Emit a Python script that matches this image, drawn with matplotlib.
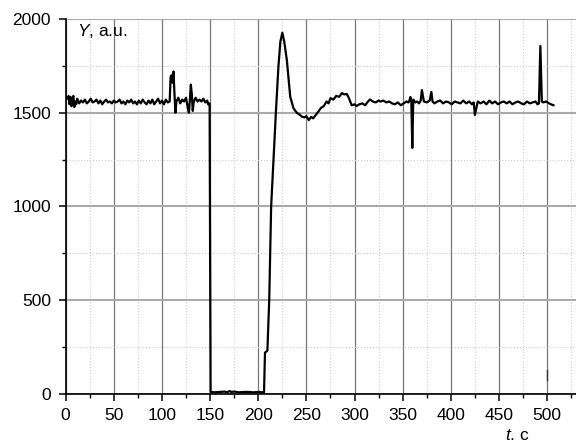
import matplotlib
matplotlib.use("Agg")
import matplotlib.pyplot as plt
from matplotlib.ticker import MultipleLocator

plt.rcParams["font.family"] = ["Liberation Sans", "DejaVu Sans"]
plt.rcParams["mathtext.fontset"] = "custom"
plt.rcParams["mathtext.it"] = "Liberation Sans:italic"
plt.rcParams["mathtext.rm"] = "Liberation Sans"

# signal
t = [0, 2, 3, 4, 5, 6, 7, 8, 9, 10, 11, 12, 14, 16, 18, 20, 22, 24, 26, 28,
     30, 32, 34, 36, 38, 40, 42, 44, 46, 48, 50, 52, 54, 56, 58, 60, 62, 64,
     66, 68, 70, 72, 74, 76, 78, 80, 82, 84, 86, 88, 90, 92, 94, 96, 98, 100,
     102, 104, 106, 108,
     109, 110, 111, 112, 113, 114, 115, 117, 119, 121, 123, 125, 127, 128,
     129, 130, 131, 132, 133, 135, 137, 139, 141, 143, 145, 147, 148, 149.5,
     150.5, 155, 160, 165, 168, 170, 172, 175, 180, 185, 190, 195, 200, 206,
     207, 209.5, 211.4, 213.4, 218.3, 221, 223, 225, 227, 229.7, 233.2, 236.6,
     240, 243.5, 245, 248, 250, 252.5, 255, 257, 260, 263, 265, 268, 271, 273,
     275, 278, 281, 284, 287, 289, 292, 294, 297, 300, 302, 305, 308, 311,
     314, 316, 319, 322, 325, 327, 330, 333, 336, 339, 342, 345, 348, 351,
     354, 356, 357, 358, 359, 360, 361, 363, 365, 367, 368.7, 370, 372, 375,
     378, 379.8, 381, 383, 386, 389, 392, 395, 398, 401, 404, 407, 410, 413,
     416, 419, 422, 423.8, 425, 428, 431, 434, 437, 440, 443, 446, 449, 452,
     455, 458, 461, 464, 467, 470, 473, 476, 479, 482, 485, 488, 490, 491.5,
     493, 494.5, 496, 499, 502, 504, 506.6]
y = [1580, 1575, 1590, 1545, 1585, 1535, 1570, 1590, 1530, 1560, 1545, 1575,
     1550, 1565, 1555, 1570, 1550, 1560, 1575, 1555, 1560, 1570, 1550, 1565,
     1545, 1560, 1570, 1555, 1560, 1550, 1565, 1555, 1560, 1570, 1550, 1560,
     1545, 1565, 1555, 1570, 1550, 1560, 1545, 1565, 1550, 1570, 1555, 1545,
     1565, 1550, 1570, 1545, 1560, 1575, 1550, 1565, 1545, 1570, 1555, 1560,
     1690, 1700, 1660, 1720, 1600, 1500, 1560, 1580, 1550, 1570, 1560, 1580,
     1520, 1500, 1570, 1650, 1600, 1510, 1560, 1580, 1560, 1570, 1560, 1575,
     1555, 1565, 1545, 1550,
     10, 8, 10, 12, 8, 15, 10, 12, 8, 10, 10, 8, 10, 8,
     220, 230, 500, 1000, 1500, 1750, 1880, 1927, 1880, 1781, 1586, 1524,
     1500, 1488, 1480, 1475, 1482, 1461, 1478, 1470, 1490, 1510, 1525, 1535,
     1560, 1550, 1578, 1570, 1590, 1585, 1605, 1598, 1600, 1580, 1540, 1545,
     1536, 1545, 1550, 1540, 1560, 1571, 1560, 1555, 1565, 1560, 1565, 1555,
     1560, 1550, 1545, 1555, 1540, 1550, 1560, 1555, 1565, 1584, 1560, 1312,
     1570, 1555, 1560, 1550, 1565, 1621, 1560, 1555, 1565, 1611, 1560, 1550,
     1560, 1565, 1550, 1560, 1555, 1545, 1560, 1555, 1550, 1565, 1550, 1560,
     1545, 1555, 1488, 1560, 1550, 1560, 1545, 1565, 1550, 1560, 1545, 1555,
     1560, 1550, 1560, 1545, 1555, 1560, 1550, 1545, 1560, 1550, 1555, 1560,
     1545, 1550, 1856, 1560, 1555, 1560, 1550, 1545, 1540]

# small stray mark near t = 500
t_mark = [500, 500]
y_mark = [74, 128]

fig = plt.figure(figsize=(5.76, 4.43), dpi=100)
ax = fig.add_axes([0.114, 0.111, 0.886, 0.846])

ax.plot(t, y, color="black", linewidth=1.6, zorder=3)
ax.plot(t_mark, y_mark, color="#333333", linewidth=1.0, zorder=3)

ax.set_xlim(0, 530)
ax.set_ylim(0, 2000)
ax.xaxis.set_major_locator(MultipleLocator(50))
ax.xaxis.set_minor_locator(MultipleLocator(25))
ax.yaxis.set_major_locator(MultipleLocator(500))
ax.yaxis.set_minor_locator(MultipleLocator(250))

ax.grid(True, which="major", axis="x", color="#777777", linewidth=0.9)
ax.grid(True, which="major", axis="y", color="#aaaaaa", linewidth=1.5)
ax.grid(True, which="minor", color="#cccccc", linewidth=0.8, linestyle=":")

ax.spines["top"].set_visible(False)
ax.spines["right"].set_visible(False)
ax.spines["left"].set_linewidth(1.2)
ax.spines["bottom"].set_linewidth(1.2)
ax.tick_params(which="major", length=5, width=1.1, labelsize=12.5,
               direction="out", pad=5.5)
ax.tick_params(which="minor", length=3, width=1.0, direction="out")
ax.set_axisbelow(True)

ax.text(12, 1985, "$Y$, a.u.", fontsize=12.5, va="top", ha="left")
fig.text(517 / 576, 1 - 436 / 443, "$t$. c", fontsize=12.5, ha="center", va="center")

fig.savefig("out.png", dpi=100)
